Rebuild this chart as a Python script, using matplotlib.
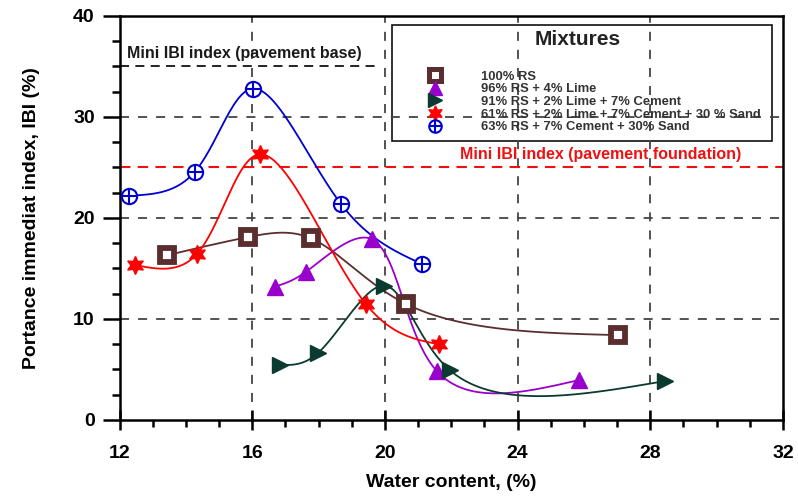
import numpy as np
import matplotlib
matplotlib.use("Agg")
from matplotlib import pyplot as plt
from matplotlib.lines import Line2D
from matplotlib.patches import Rectangle

plt.rcParams['font.family'] = ['Liberation Sans', 'DejaVu Sans']

# water content (%) and IBI (%)
rs_x = [13.42, 15.86, 17.76, 20.63, 27.02]
rs_y = [16.3, 18.1, 18.0, 11.5, 8.4]

lime_x = [16.68, 17.61, 19.60, 21.56, 25.85]
lime_y = [13.2, 14.65, 17.9, 4.85, 3.95]

cem_x = [16.83, 17.97, 19.96, 21.95, 28.44]
cem_y = [5.45, 6.6, 13.3, 4.95, 3.85]

sand_x = [12.45, 14.32, 16.22, 19.42, 21.62]
sand_y = [15.35, 16.4, 26.3, 11.5, 7.5]

csand_x = [12.27, 14.26, 16.01, 18.67, 21.11]
csand_y = [22.2, 24.55, 32.8, 21.4, 15.45]

labels = [
    "100% RS",
    "96% RS + 4% Lime",
    "91% RS + 2% Lime + 7% Cement",
    "61% RS + 2% Lime + 7% Cement + 30 % Sand",
    "63% RS + 7% Cement + 30% Sand",
]

base_limit = 35
base_limit_end = 19.85
foundation_limit = 25

x_ticks = [12, 16, 20, 24, 28, 32]
y_ticks = [0, 10, 20, 30, 40]


def natural(t, v, ts):
    k = len(t)
    h = np.diff(t)
    A = np.zeros((k, k))
    b = np.zeros(k)
    A[0, 0] = A[-1, -1] = 1
    for i in range(1, k - 1):
        A[i, i - 1] = h[i - 1]
        A[i, i] = 2 * (h[i - 1] + h[i])
        A[i, i + 1] = h[i]
        b[i] = 6 * ((v[i + 1] - v[i]) / h[i] - (v[i] - v[i - 1]) / h[i - 1])
    M = np.linalg.solve(A, b)
    idx = np.clip(np.searchsorted(t, ts) - 1, 0, k - 2)
    t0, t1 = t[idx], t[idx + 1]
    hh = t1 - t0
    return (M[idx] * (t1 - ts) ** 3 / (6 * hh) + M[idx + 1] * (ts - t0) ** 3 / (6 * hh)
            + (v[idx] / hh - M[idx] * hh / 6) * (t1 - ts)
            + (v[idx + 1] / hh - M[idx + 1] * hh / 6) * (ts - t0))


def smooth(x, y, n=400):
    # parametric cubic spline (centripetal, on screen scale) for the connecting line
    x = np.asarray(x, float)
    y = np.asarray(y, float)
    sx, sy = 33.15, 10.1
    d = np.hypot(np.diff(x) * sx, np.diff(y) * sy) ** 0.5
    t = np.concatenate([[0], np.cumsum(d)])
    ts = np.linspace(0, t[-1], n)
    return natural(t, x, ts), natural(t, y, ts)


fig = plt.figure(figsize=(7.98, 4.97), dpi=100)
ax = fig.add_axes([0.150, 0.155, 0.831, 0.813])

brown = '#5a2e2e'
purple = '#9a00cc'
green = '#0b3b30'
red = '#ff0000'
blue = '#0000d0'

series = [
    (rs_x, rs_y, brown, dict(marker='s', ms=10, mfc='white', mec=brown, mew=4.2)),
    (lime_x, lime_y, purple, dict(marker='^', ms=12, mfc=purple, mec=purple)),
    (cem_x, cem_y, green, dict(marker='>', ms=12, mfc=green, mec=green)),
    (sand_x, sand_y, red, dict(marker=(6, 1, 0), ms=13, mfc=red, mec=red)),
]
leg_marks = [
    dict(marker='s', ms=9, mfc='white', mec=brown, mew=3.6),
    dict(marker='^', ms=10, mfc=purple, mec=purple),
    dict(marker='>', ms=10, mfc=green, mec=green),
    dict(marker=(6, 1, 0), ms=11, mfc=red, mec=red),
]

handles = []
for (x, y, c, mk), lm in zip(series, leg_marks):
    xs, ys = smooth(x, y)
    ax.plot(xs, ys, color=c, lw=1.3, zorder=3)
    ax.plot(x, y, ls='none', zorder=4, **mk)
    handles.append(Line2D([0], [0], ls='none', **lm))

xs, ys = smooth(csand_x, csand_y)
ax.plot(xs, ys, color=blue, lw=1.3, zorder=3)
ax.plot(csand_x, csand_y, ls='none', marker='o', ms=11, mfc='white', mec=blue, mew=1.5, zorder=4)
ax.plot(csand_x, csand_y, ls='none', marker='+', ms=11, mec=blue, mew=1.5, zorder=5)
handles.append((Line2D([0], [0], ls='none', marker='o', ms=9, mfc='white', mec=blue, mew=1.5),
                Line2D([0], [0], ls='none', marker='+', ms=9, mec=blue, mew=1.5)))

# threshold lines
ax.hlines(base_limit, x_ticks[0], base_limit_end, colors='#111111', linestyles=(0, (5, 3.5)), lw=1.3, zorder=2)
ax.axhline(foundation_limit, color='#ee1111', ls=(0, (5, 3.5)), lw=1.5, zorder=2)
ax.text(0.011, 0.908, "Mini IBI index (pavement base)", transform=ax.transAxes,
        fontsize=11.5, fontweight='bold', color='#1a1a1a', va='center', ha='left')
ax.text(0.725, 0.656, "Mini IBI index (pavement foundation)", transform=ax.transAxes,
        fontsize=11.5, fontweight='bold', color='#ee1111', va='center', ha='center')

# legend box
ax.add_patch(Rectangle((0.410, 0.691), 0.573, 0.287, transform=ax.transAxes,
                       facecolor='white', edgecolor='#111111', lw=1.2, zorder=1))
ax.text(0.691, 0.941, "Mixtures", transform=ax.transAxes, fontsize=15,
        fontweight='bold', color='#222222', ha='center', va='center', zorder=6)
leg = ax.legend(handles, labels, loc='upper left', bbox_to_anchor=(0.457, 0.865),
                frameon=False, borderpad=0, borderaxespad=0, handlelength=1.8,
                handletextpad=2.65, labelspacing=0.04,
                prop=dict(size=9.4, weight='bold'))
leg.set_zorder(6)
for t in leg.get_texts():
    t.set_color('#333333')

ax.set_xlim(12, 32)
ax.set_ylim(0, 40)
ax.set_xticks(x_ticks)
ax.set_yticks(y_ticks)
ax.set_xticks(np.arange(12, 32, 1), minor=True)
ax.set_yticks(np.arange(0, 40, 2.5), minor=True)

for g in [16, 20, 24, 28]:
    ax.axvline(g, color='#444444', ls=(0, (5, 5)), lw=1.3, zorder=1.5)
for g in [10, 20, 30]:
    ax.axhline(g, color='#444444', ls=(0, (5, 5)), lw=1.3, zorder=1.5)

ax.tick_params(axis='x', which='major', direction='inout', length=14, width=1.8,
               labelsize=14, pad=11)
ax.tick_params(axis='x', which='minor', direction='out', length=5, width=1.8)
ax.tick_params(axis='y', which='major', direction='out', length=12, width=1.8,
               labelsize=14, pad=6)
ax.tick_params(axis='y', which='minor', direction='out', length=6, width=1.8)
for lab in ax.get_xticklabels() + ax.get_yticklabels():
    lab.set_fontweight('bold')

for s in ax.spines.values():
    s.set_linewidth(1.8)

ax.set_xlabel("Water content, (%)", fontsize=14, fontweight='bold', labelpad=9)
ax.set_ylabel("Portance immediat index, IBI (%)", fontsize=14, fontweight='bold', labelpad=24)

fig.savefig("out.png", dpi=100)
